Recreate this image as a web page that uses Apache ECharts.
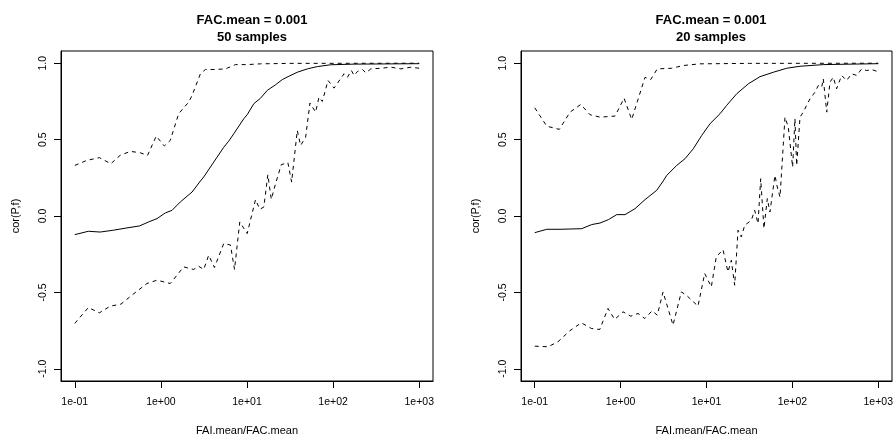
<!DOCTYPE html>
<html>
<head>
<meta charset="utf-8">
<script src="https://cdn.jsdelivr.net/npm/echarts@6/dist/echarts.min.js"></script>
<style>
  html, body { margin: 0; padding: 0; background: #fff; }
  #main { width: 896px; height: 441px; }
</style>
</head>
<body>
<div id="main"></div>
<script>
// x values are stored as log10(FAI.mean/FAC.mean), y values are cor(P,f)

// 50 samples (left panel)
var leftMeanX = [-1.0, -0.842, -0.705, -0.551, -0.395, -0.248, -0.143, -0.045, 0.051, 0.129, 0.226, 0.362, 0.459, 0.497, 0.614, 0.73, 0.788, 0.846, 0.963, 1.002, 1.079, 1.157, 1.235, 1.332, 1.41, 1.487, 1.584, 1.701, 1.817, 1.972, 2.243, 3.0];
var leftMeanY = [-0.122, -0.1, -0.105, -0.093, -0.078, -0.065, -0.039, -0.017, 0.02, 0.037, 0.092, 0.157, 0.229, 0.255, 0.353, 0.45, 0.49, 0.538, 0.637, 0.663, 0.735, 0.771, 0.822, 0.859, 0.893, 0.915, 0.941, 0.963, 0.978, 0.99, 0.994, 0.997];

var leftUpX = [-1.0, -0.86, -0.714, -0.581, -0.473, -0.356, -0.24, -0.155, -0.054, 0.04, 0.109, 0.206, 0.322, 0.362, 0.459, 0.517, 0.633, 0.75, 0.866, 1.002, 1.157, 1.5, 3.0];
var leftUpY = [0.331, 0.364, 0.382, 0.342, 0.397, 0.423, 0.414, 0.397, 0.523, 0.458, 0.495, 0.669, 0.745, 0.789, 0.931, 0.959, 0.959, 0.963, 0.991, 0.991, 0.996, 0.999, 1.0];

var leftLowX = [-1.0, -0.842, -0.714, -0.589, -0.464, -0.336, -0.162, -0.045, 0.109, 0.264, 0.381, 0.439, 0.497, 0.555, 0.622, 0.73, 0.808, 0.855, 0.916, 1.002, 1.099, 1.149, 1.196, 1.242, 1.282, 1.332, 1.398, 1.475, 1.518, 1.584, 1.623, 1.681, 1.731, 1.797, 1.836, 1.875, 1.941, 2.011, 2.127, 2.166, 2.213, 2.243, 2.283, 2.341, 2.38, 2.438, 2.554, 2.671, 2.787, 2.903, 3.0];
var leftLowY = [-0.703, -0.599, -0.634, -0.59, -0.577, -0.518, -0.442, -0.42, -0.442, -0.333, -0.35, -0.329, -0.35, -0.257, -0.337, -0.18, -0.19, -0.35, -0.039, -0.115, 0.107, 0.044, 0.059, 0.27, 0.109, 0.212, 0.336, 0.349, 0.222, 0.56, 0.462, 0.516, 0.739, 0.68, 0.778, 0.75, 0.887, 0.837, 0.931, 0.908, 0.952, 0.92, 0.946, 0.959, 0.937, 0.963, 0.967, 0.974, 0.963, 0.974, 0.967];

// 20 samples (right panel)
var rightMeanX = [-1.0, -0.86, -0.705, -0.453, -0.336, -0.24, -0.143, -0.045, 0.051, 0.168, 0.284, 0.42, 0.497, 0.537, 0.653, 0.75, 0.846, 0.944, 1.041, 1.157, 1.235, 1.352, 1.487, 1.623, 1.778, 1.934, 2.089, 2.36, 3.0];
var rightMeanY = [-0.109, -0.087, -0.087, -0.083, -0.056, -0.046, -0.024, 0.009, 0.009, 0.048, 0.107, 0.168, 0.23, 0.266, 0.331, 0.375, 0.44, 0.527, 0.604, 0.669, 0.724, 0.8, 0.865, 0.912, 0.941, 0.967, 0.98, 0.991, 0.997];

var rightUpX = [-1.0, -0.86, -0.714, -0.589, -0.464, -0.356, -0.24, -0.065, 0.04, 0.129, 0.284, 0.35, 0.427, 0.595, 0.73, 0.924, 1.5, 3.0];
var rightUpY = [0.708, 0.588, 0.567, 0.68, 0.73, 0.663, 0.647, 0.654, 0.771, 0.632, 0.908, 0.893, 0.963, 0.967, 0.985, 0.996, 0.999, 1.0];

var rightLowX = [-1.0, -0.845, -0.729, -0.593, -0.458, -0.341, -0.243, -0.147, -0.069, 0.028, 0.118, 0.203, 0.281, 0.366, 0.427, 0.494, 0.61, 0.707, 0.765, 0.901, 0.979, 1.056, 1.114, 1.192, 1.25, 1.289, 1.328, 1.367, 1.405, 1.445, 1.522, 1.561, 1.6, 1.631, 1.669, 1.708, 1.739, 1.797, 1.824, 1.856, 1.914, 1.952, 2.003, 2.03, 2.05, 2.089, 2.127, 2.166, 2.205, 2.263, 2.302, 2.341, 2.36, 2.4, 2.438, 2.476, 2.515, 2.574, 2.632, 2.69, 2.749, 2.807, 2.865, 2.923, 2.988, 3.0];
var rightLowY = [-0.852, -0.856, -0.823, -0.752, -0.699, -0.736, -0.743, -0.605, -0.677, -0.627, -0.656, -0.638, -0.671, -0.621, -0.649, -0.497, -0.714, -0.497, -0.518, -0.59, -0.376, -0.464, -0.268, -0.22, -0.366, -0.29, -0.453, -0.093, -0.137, -0.061, -0.028, 0.037, -0.05, 0.244, -0.082, 0.114, 0.026, 0.266, 0.19, 0.124, 0.647, 0.582, 0.32, 0.637, 0.331, 0.647, 0.68, 0.724, 0.767, 0.81, 0.854, 0.843, 0.898, 0.68, 0.876, 0.908, 0.833, 0.92, 0.887, 0.931, 0.92, 0.963, 0.952, 0.959, 0.946, 0.94];

var xTickValues = [0.1, 1, 10, 100, 1000];
var xTickLabels = ['1e-01', '1e+00', '1e+01', '1e+02', '1e+03'];
var yTickValues = [-1, -0.5, 0, 0.5, 1];
var yTickLabels = ['-1.0', '-0.5', '0.0', '0.5', '1.0'];
var titles = ['FAC.mean = 0.001\n50 samples', 'FAC.mean = 0.001\n20 samples'];

var FONT = '"Liberation Sans", Arial, sans-serif';

function pairs(xs, ys) {
  return xs.map(function(e, i) {
    return [Math.pow(10, e), ys[i]];
  });
}

function xAxis(idx) {
  return {
    type: 'log',
    logBase: 10,
    gridIndex: idx,
    min: Math.pow(10, -1.16),
    max: Math.pow(10, 3.16),
    name: 'FAI.mean/FAC.mean',
    nameLocation: 'middle',
    nameGap: 44,
    nameTextStyle: { fontFamily: FONT, fontSize: 11, color: '#000' },
    axisLine: { show: true, onZero: false, lineStyle: { color: '#000', width: 1 } },
    axisTick: {
      show: true,
      inside: false,
      length: 7,
      customValues: xTickValues,
      lineStyle: { color: '#000', width: 1 },
    },
    axisLabel: {
      margin: 16,
      fontFamily: FONT,
      fontSize: 10.5,
      color: '#000',
      customValues: xTickValues,
      formatter: function(v) {
        return xTickLabels[Math.round(Math.log10(v)) + 1];
      },
    },
    splitLine: { show: false },
  };
}

function yAxis(idx) {
  return {
    type: 'value',
    gridIndex: idx,
    min: -1.08,
    max: 1.08,
    name: 'cor(P,f)',
    nameLocation: 'middle',
    nameGap: 40,
    nameTextStyle: { fontFamily: FONT, fontSize: 11, color: '#000' },
    axisLine: { show: true, onZero: false, lineStyle: { color: '#000', width: 1 } },
    axisTick: {
      show: true,
      inside: false,
      length: 7,
      customValues: yTickValues,
      lineStyle: { color: '#000', width: 1 },
    },
    axisLabel: {
      rotate: 90,
      margin: 12,
      fontFamily: FONT,
      fontSize: 10.5,
      color: '#000',
      customValues: yTickValues,
      formatter: function(v) {
        return yTickLabels[yTickValues.indexOf(Math.round(v * 2) / 2)];
      },
    },
    splitLine: { show: false },
  };
}

function line(idx, xs, ys, dashed) {
  return {
    type: 'line',
    xAxisIndex: idx,
    yAxisIndex: idx,
    data: pairs(xs, ys),
    symbol: 'none',
    silent: true,
    lineStyle: { color: '#000', width: 1, type: dashed ? [4, 4] : 'solid' },
  };
}

var mycharts = echarts.init(document.getElementById('main'));
var option = {
  animation: false,
  backgroundColor: '#fff',
  title: [
    {
      text: titles[0],
      left: 247,
      top: 7,
      textAlign: 'center',
      textStyle: { fontFamily: FONT, fontSize: 13, fontWeight: 'bold', color: '#000', lineHeight: 17 },
    },
    {
      text: titles[1],
      left: 706,
      top: 7,
      textAlign: 'center',
      textStyle: { fontFamily: FONT, fontSize: 13, fontWeight: 'bold', color: '#000', lineHeight: 17 },
    },
  ],
  grid: [
    { left: 61, top: 51, width: 372, height: 330, show: true, borderColor: '#000', borderWidth: 1, backgroundColor: 'transparent' },
    { left: 521, top: 51, width: 371, height: 330, show: true, borderColor: '#000', borderWidth: 1, backgroundColor: 'transparent' },
  ],
  xAxis: [xAxis(0), xAxis(1)],
  yAxis: [yAxis(0), yAxis(1)],
  series: [
    line(0, leftMeanX, leftMeanY, false),
    line(0, leftUpX, leftUpY, true),
    line(0, leftLowX, leftLowY, true),
    line(1, rightMeanX, rightMeanY, false),
    line(1, rightUpX, rightUpY, true),
    line(1, rightLowX, rightLowY, true),
  ],
};

mycharts.setOption(option);
</script>
</body>
</html>
